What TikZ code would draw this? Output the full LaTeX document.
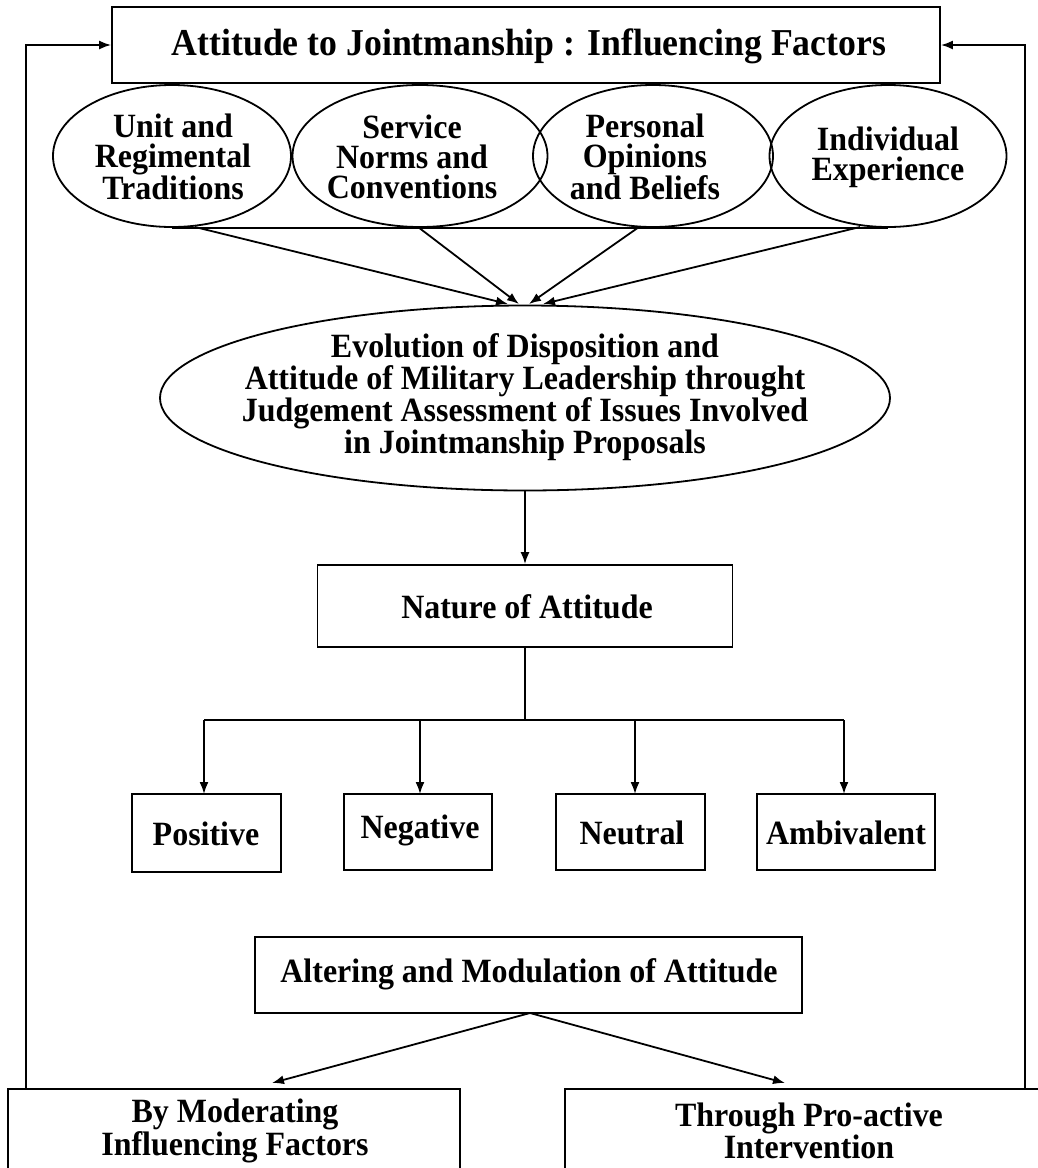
\documentclass[tikz,border=0pt]{standalone}
\usepackage{fontspec}
\newfontfamily\bfont[FakeStretch=0.94]{Liberation Serif Bold}
\usetikzlibrary{shapes.geometric,arrows.meta}
\begin{document}
\begin{tikzpicture}[x=1pt,y=-1pt,
  line width=1.8pt,
  arr/.style={-{Latex[length=12pt,width=9pt]}},
  boxnode/.style={draw,rectangle,inner sep=0pt},
  ellnode/.style={draw,ellipse,inner sep=0pt},
  txt/.style={align=center,inner sep=0pt,font=\bfont\fontsize{34}{30}\selectfont},
  bigtxt/.style={align=center,inner sep=0pt,font=\bfont\fontsize{34}{31}\selectfont}]
\clip (0,0) rectangle (1038,1168);
\fill[white] (0,0) rectangle (1038,1168);
% top
\node (top) [boxnode,minimum width=828pt,minimum height=76pt] at (526,45) {};
\node (toptxt) [txt,font=\bfont\fontsize{38}{38}\selectfont] at (529,46) {Attitude to Jointmanship : Influencing Factors};
% factor ellipses
\node (e1) [ellnode,minimum width=238pt,minimum height=142pt] at (172,156) {};
\node (e2) [ellnode,minimum width=255pt,minimum height=142pt] at (420,156) {};
\node (e3) [ellnode,minimum width=240pt,minimum height=142pt] at (653,156) {};
\node (e4) [ellnode,minimum width=237pt,minimum height=142pt] at (888,156) {};
\node (t1) [txt] at (173,157) {Unit and\\Regimental\\Traditions};
\node (t2) [txt] at (412,157) {Service\\Norms and\\Conventions};
\node (t3) [txt] at (645,157) {Personal\\Opinions\\and Beliefs};
\node (t4) [txt] at (888,157) {Individual\\Experience};
\draw (e1.south) -- (e4.south);
\coordinate (s1) at (195,227);
\coordinate (s2) at (418,227);
\coordinate (s3) at (639,227);
\coordinate (s4) at (860,227);
\coordinate (d1) at (508,304);
\coordinate (d2) at (519,304);
\coordinate (d3) at (529,304);
\coordinate (d4) at (543,304);
\draw[arr] (s1) -- (d1);
\draw[arr] (s2) -- (d2);
\draw[arr] (s3) -- (d3);
\draw[arr] (s4) -- (d4);
% evolution ellipse
\node (evo) [ellnode,minimum width=730pt,minimum height=185pt] at (525,398) {};
\node (evotxt) [bigtxt] at (525,397) {Evolution of Disposition and\\Attitude of Military Leadership throught\\Judgement Assessment of Issues Involved\\in Jointmanship Proposals};
% nature
\node (nat) [boxnode,minimum width=415pt,minimum height=82pt] at (525,606) {};
\node (nattxt) [txt] at (527,607) {Nature of Attitude};
\draw[arr] (evo.south) -- (nat.north);
% categories
\node (pos) [boxnode,minimum width=149pt,minimum height=78pt] at (206.5,833) {};
\node (neg) [boxnode,minimum width=148pt,minimum height=76pt] at (418,832) {};
\node (neu) [boxnode,minimum width=149pt,minimum height=76pt] at (630.5,832) {};
\node (amb) [boxnode,minimum width=178pt,minimum height=76pt] at (846,832) {};
\node (postxt) [txt] at (206,834) {Positive};
\node (negtxt) [txt] at (420,830) {Negative};
\node (neutxt) [txt] at (632,833) {Neutral};
\node (ambtxt) [txt] at (846,833) {Ambivalent};
\coordinate (hub) at (525,720);
\draw (nat.south) -- (hub);
\draw (204,720) -- (844,720);
\draw[arr] (hub -| 204,0) -- (204,794);
\draw[arr] (hub -| 420,0) -- (420,794);
\draw[arr] (hub -| 635,0) -- (635,794);
\draw[arr] (hub -| 844,0) -- (844,794);
% altering
\node (alt) [boxnode,minimum width=547pt,minimum height=76pt] at (528.5,975) {};
\node (alttxt) [txt] at (529,974) {Altering and Modulation of Attitude};
\coordinate (am) at (530,1013);
\coordinate (ml) at (272,1083);
\coordinate (mr) at (785,1083);
\draw[arr] (am) -- (ml);
\draw[arr] (am) -- (mr);
% bottom boxes
\node (bl) [boxnode,anchor=north,minimum width=452pt,minimum height=130pt] at (234,1088) {};
\node (br) [boxnode,anchor=north,minimum width=490pt,minimum height=130pt] at (810,1088) {};
\node (bltxt) [txt,font=\bfont\fontsize{34}{29}\selectfont] at (235,1131) {By Moderating\\Influencing Factors};
\node (brtxt) [txt,font=\bfont\fontsize{34}{29}\selectfont] at (809,1131) {Through Pro-active\\Intervention};
% feedback
\coordinate (fl) at (26,1088);
\coordinate (fr) at (1025,1088);
\draw[arr] (fl) |- (top.west);
\draw[arr] (fr) |- (top.east);
\end{tikzpicture}
\end{document}
